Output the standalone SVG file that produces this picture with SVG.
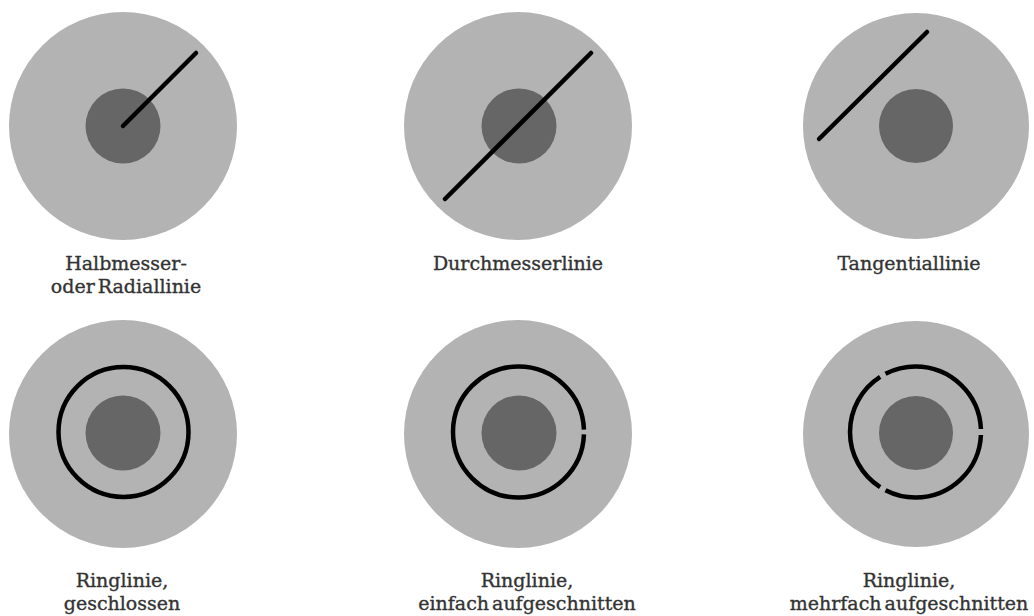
<svg xmlns="http://www.w3.org/2000/svg" width="1034" height="616" viewBox="0 0 1034 616">
<style>
.outer{fill:#b3b3b3}
.inner{fill:#666666}
.ln{stroke:#000;stroke-width:4.5;stroke-linecap:round;fill:none}
.ring{stroke:#000;stroke-width:4.5;fill:none}
.lbl{font-family:"DejaVu Serif","Liberation Serif",serif;font-size:19px;fill:#333;stroke:#333;stroke-width:0.35px;text-anchor:middle;word-spacing:-3px}
</style>
<rect width="1034" height="616" fill="#fff"/>
<g id="radial">
<circle class="outer" cx="123" cy="126" r="114"/>
<circle class="inner" cx="123" cy="126" r="37.5"/>
<line class="ln" x1="123" y1="126" x2="196" y2="53"/>
<text class="lbl" x="126" y="270">Halbmesser-</text>
<text class="lbl" x="126" y="293">oder Radiallinie</text>
</g>
<g id="durchmesser">
<circle class="outer" cx="518" cy="126" r="114"/>
<circle class="inner" cx="519" cy="126" r="37.5"/>
<line class="ln" x1="445" y1="199" x2="591" y2="53"/>
<text class="lbl" x="518" y="270">Durchmesserlinie</text>
</g>
<g id="tangential">
<circle class="outer" cx="916" cy="126" r="113"/>
<circle class="inner" cx="916" cy="126" r="37"/>
<line class="ln" x1="819" y1="139" x2="927" y2="32"/>
<text class="lbl" x="909" y="270">Tangentiallinie</text>
</g>
<g id="ring-geschlossen">
<circle class="outer" cx="123" cy="434" r="114"/>
<circle class="inner" cx="123" cy="433" r="37.5"/>
<circle class="ring" cx="123.5" cy="432" r="65"/>
<text class="lbl" x="122" y="587">Ringlinie,</text>
<text class="lbl" x="122" y="610">geschlossen</text>
</g>
<g id="ring-einfach">
<circle class="outer" cx="518" cy="434" r="114"/>
<circle class="inner" cx="519" cy="433" r="37.5"/>
<circle class="ring" cx="518.5" cy="432" r="65.5" pathLength="360" stroke-dasharray="355.6 4.4" stroke-dashoffset="-2.2"/>
<text class="lbl" x="527" y="587">Ringlinie,</text>
<text class="lbl" x="527" y="610">einfach aufgeschnitten</text>
</g>
<g id="ring-mehrfach">
<circle class="outer" cx="916" cy="434" r="113"/>
<circle class="inner" cx="916" cy="433" r="37"/>
<circle class="ring" cx="915.5" cy="432" r="65.5" pathLength="360" stroke-dasharray="114.6 5.4" stroke-dashoffset="-2.7"/>
<text class="lbl" x="909" y="587">Ringlinie,</text>
<text class="lbl" x="909" y="610">mehrfach aufgeschnitten</text>
</g>
<g id="connectors"></g>
</svg>
